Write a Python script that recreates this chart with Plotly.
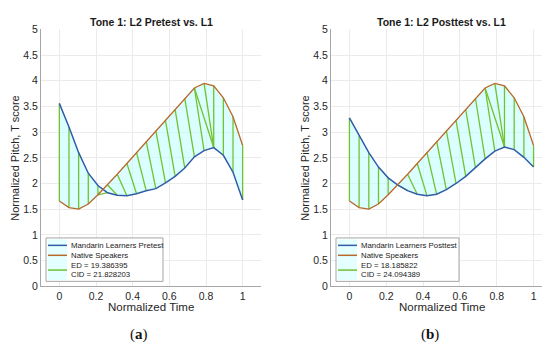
import plotly.graph_objects as go

# ---------------- data ----------------
time = [0.0, 0.0526, 0.1053, 0.1579, 0.2105, 0.2632, 0.3158, 0.3684, 0.4211, 0.4737,
        0.5263, 0.5789, 0.6316, 0.6842, 0.7368, 0.7895, 0.8421, 0.8947, 0.9474, 1.0]

native = [1.66, 1.53, 1.50, 1.60, 1.78, 1.97, 2.18, 2.39, 2.60, 2.82,
          3.03, 3.23, 3.44, 3.66, 3.86, 3.95, 3.90, 3.67, 3.30, 2.74]

pretest = [3.56, 3.10, 2.60, 2.20, 1.96, 1.82, 1.77, 1.76, 1.80, 1.86,
           1.90, 2.01, 2.14, 2.30, 2.52, 2.64, 2.70, 2.55, 2.22, 1.68]

posttest = [3.28, 2.93, 2.60, 2.32, 2.11, 1.97, 1.86, 1.79, 1.76, 1.79,
            1.88, 2.00, 2.14, 2.31, 2.48, 2.63, 2.71, 2.66, 2.51, 2.32]

# DTW alignment pairs (learner index, native index)
path_a_learner = [0, 1, 2, 3, 4, 5, 6, 7, 8, 9, 10, 11, 12, 13, 14, 15, 16, 16, 16, 17, 18, 19]
path_a_native  = [0, 1, 2, 3, 4, 4, 5, 6, 7, 8, 9, 10, 11, 12, 13, 14, 14, 15, 16, 17, 18, 19]
path_b_learner = [0, 1, 2, 3, 4, 5, 6, 7, 8, 9, 10, 11, 12, 13, 14, 15, 16, 16, 16, 17, 18, 19]
path_b_native  = [0, 1, 2, 3, 4, 5, 5, 6, 7, 8, 9, 10, 11, 12, 13, 14, 14, 15, 16, 17, 18, 19]

titles = ["Tone 1: L2 Pretest vs. L1", "Tone 1: L2 Posttest vs. L1"]
learner_names = ["Mandarin Learners Pretest", "Mandarin Learners Posttest"]
ed_text = ["ED = 19.386395", "ED = 18.185822"]
cid_text = ["CID = 21.828203", "CID = 24.094389"]
panel_labels = ["(<b>a</b>)", "(<b>b</b>)"]
x_ticks = [0, 0.2, 0.4, 0.6, 0.8, 1]
y_ticks = [0, 0.5, 1, 1.5, 2, 2.5, 3, 3.5, 4, 4.5, 5]

# ---------------- style ----------------
W, H = 550, 345
BLUE = "#2F5DA8"
ORANGE = "#B7682B"
GREEN = "#72C230"
FILL = "rgba(190,255,255,0.55)"
FONT = "Liberation Sans, Arial, sans-serif"

def px(x):
    return x / W

def py(y):
    return 1 - y / H

panels = [
    dict(x0=33, x1=253, learner=pretest, pl=path_a_learner, pn=path_a_native,
         leg=(38, 155)),
    dict(x0=323, x1=544, learner=posttest, pl=path_b_learner, pn=path_b_native,
         leg=(328, 451)),
]
Y_TOP, Y_BOT = 16, 282

fig = go.Figure()
shapes = []
annotations = []

for k, p in enumerate(panels):
    xa = "x" if k == 0 else "x2"
    ya = "y" if k == 0 else "y2"
    learner = p["learner"]

    # filled region between curves
    fig.add_trace(go.Scatter(
        x=time + time[::-1], y=native + learner[::-1],
        fill="toself", fillcolor=FILL, line=dict(width=0),
        mode="lines", hoverinfo="skip", showlegend=False, xaxis=xa, yaxis=ya))

    # DTW alignment lines
    gx, gy = [], []
    for i, j in zip(p["pl"], p["pn"]):
        gx += [time[j], time[i], None]
        gy += [native[j], learner[i], None]
    fig.add_trace(go.Scatter(x=gx, y=gy, mode="lines",
                             line=dict(color=GREEN, width=1.3),
                             showlegend=False, xaxis=xa, yaxis=ya))

    fig.add_trace(go.Scatter(x=time, y=learner, mode="lines",
                             line=dict(color=BLUE, width=1.5),
                             showlegend=False, xaxis=xa, yaxis=ya))
    fig.add_trace(go.Scatter(x=time, y=native, mode="lines",
                             line=dict(color=ORANGE, width=1.3),
                             showlegend=False, xaxis=xa, yaxis=ya))

    axis_common = dict(showgrid=True, gridcolor="#EBEBEB", gridwidth=1,
                       zeroline=False, showline=True, linecolor="#A6A6A6",
                       linewidth=1, ticks="", mirror=False,
                       tickfont=dict(family=FONT, size=10.5, color="#262626"))
    xkey = "xaxis" if k == 0 else "xaxis2"
    ykey = "yaxis" if k == 0 else "yaxis2"
    fig.update_layout(**{
        xkey: dict(axis_common, domain=[px(p["x0"]), px(p["x1"])],
                   range=[-0.1, 1.1], tickvals=x_ticks,
                   ticktext=[str(v) for v in x_ticks], anchor=ya),
        ykey: dict(axis_common, domain=[py(Y_BOT), py(Y_TOP)],
                   range=[0, 5], tickvals=y_ticks,
                   ticktext=[str(v) for v in y_ticks], anchor=xa),
    })

    cx = (p["x0"] + p["x1"]) / 2
    annotations += [
        dict(text="<b>" + titles[k] + "</b>", x=px(cx), y=py(8), xref="paper", yref="paper",
             showarrow=False, font=dict(family=FONT, size=10.5, color="#1a1a1a"),
             xanchor="center", yanchor="middle"),
        dict(text="Normalized Time", x=px(cx), y=py(304), xref="paper", yref="paper",
             showarrow=False, font=dict(family=FONT, size=11.5, color="#262626"),
             xanchor="center", yanchor="middle"),
        dict(text="Normalized Pitch, T score", x=px(p["x0"] - 26), y=py((Y_TOP + Y_BOT) / 2),
             xref="paper", yref="paper", textangle=-90, showarrow=False,
             font=dict(family=FONT, size=11, color="#262626"),
             xanchor="center", yanchor="middle"),
        dict(text=panel_labels[k], x=px(cx - 12), y=py(332), xref="paper", yref="paper",
             showarrow=False, font=dict(family="Liberation Serif, serif", size=15, color="#111"),
             xanchor="center", yanchor="middle"),
    ]

    # custom legend box
    lx0, lx1 = p["leg"]
    ly0, ly1 = 232, 277
    shapes.append(dict(type="rect", xref="paper", yref="paper",
                       x0=px(lx0), x1=px(lx1), y0=py(ly1), y1=py(ly0),
                       fillcolor="white", line=dict(color="#A6A6A6", width=1), layer="above"))
    shapes.append(dict(type="rect", xref="paper", yref="paper",
                       x0=px(lx0 + 1.5), x1=px(lx0 + 21), y0=py(ly1 - 1.5), y1=py(ly0 + 1.5),
                       fillcolor="#E3FFFF", line=dict(width=0), layer="above"))
    sx0, sx1 = lx0 + 2, lx0 + 21
    for yy, col in [(239.7, BLUE), (250, ORANGE), (265.3, GREEN)]:
        shapes.append(dict(type="line", xref="paper", yref="paper",
                           x0=px(sx0), x1=px(sx1), y0=py(yy), y1=py(yy),
                           line=dict(color=col, width=1.5), layer="above"))
    tx = lx0 + 23
    for yy, txt in [(239.7, learner_names[k]), (250, "Native Speakers"),
                    (260.3, ed_text[k]), (270.4, cid_text[k])]:
        annotations.append(dict(text=txt, x=px(tx), y=py(yy), xref="paper", yref="paper",
                                showarrow=False, xanchor="left", yanchor="middle",
                                font=dict(family=FONT, size=7.8, color="#1a1a1a")))

fig.update_layout(
    width=W, height=H, margin=dict(l=0, r=0, t=0, b=0),
    paper_bgcolor="white", plot_bgcolor="white",
    showlegend=False, shapes=shapes, annotations=annotations,
)

fig.write_html("out.html")
